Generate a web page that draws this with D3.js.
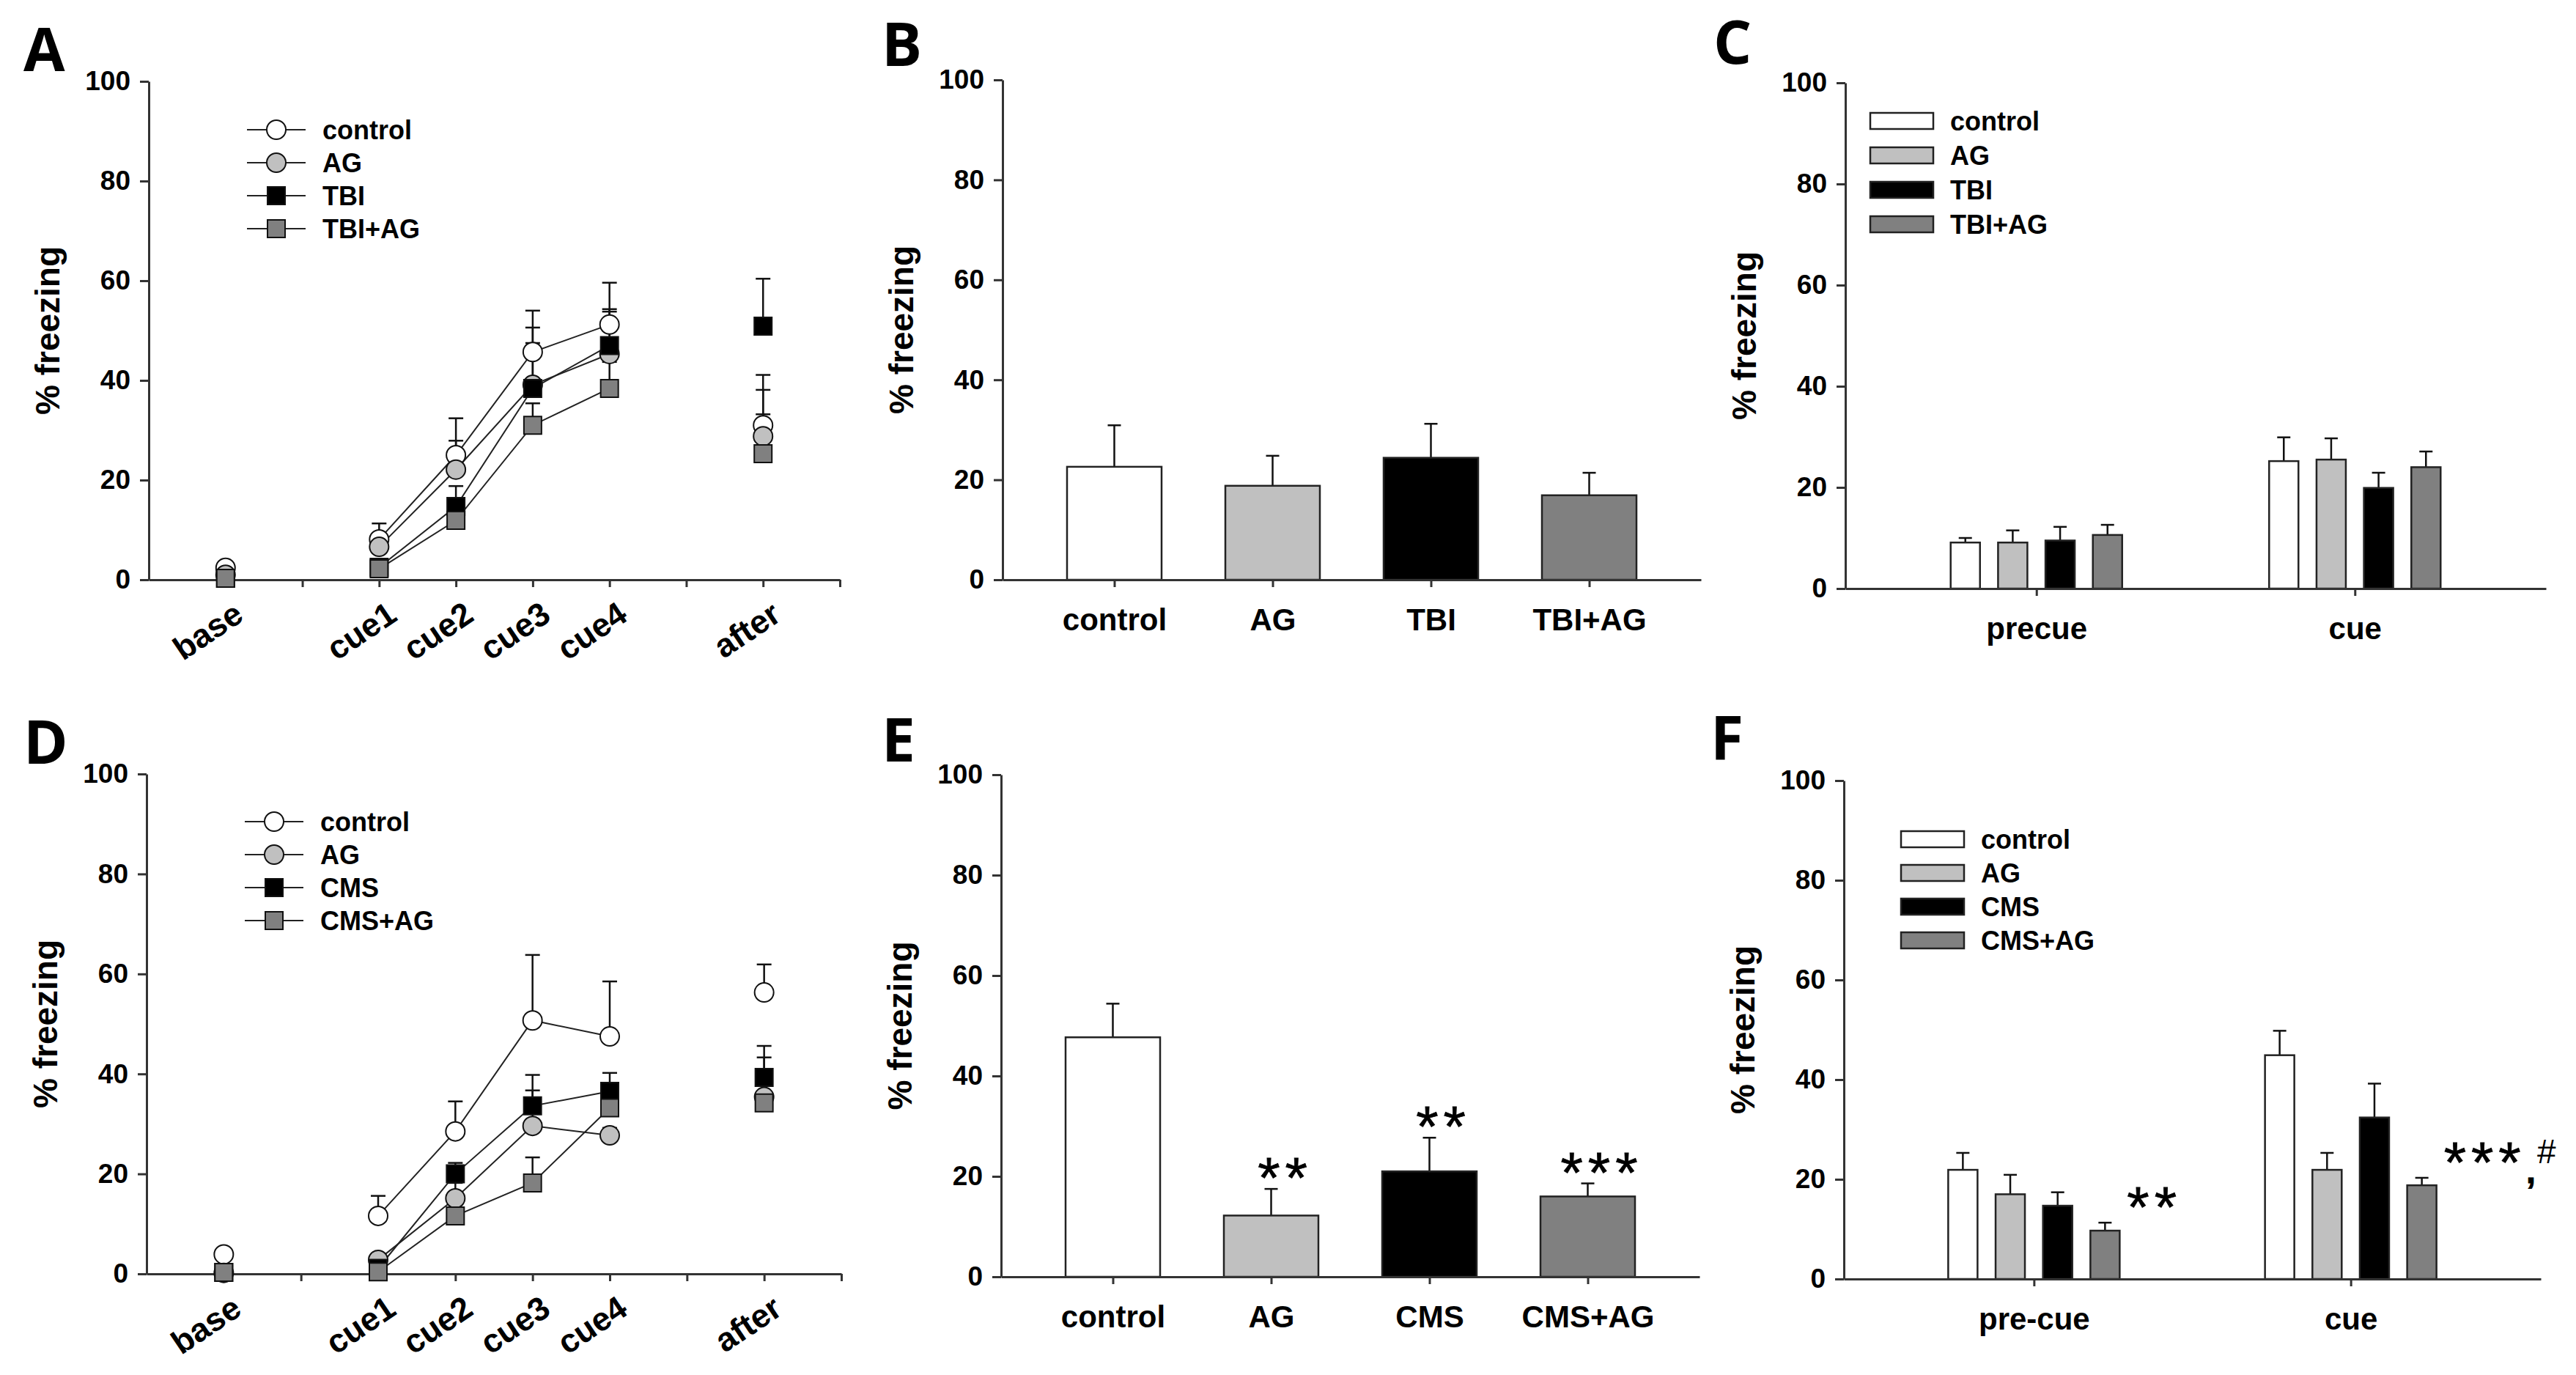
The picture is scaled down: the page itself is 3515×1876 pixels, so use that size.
<!DOCTYPE html>
<html>
  <head>
    <meta charset="utf-8">
    <title>Freezing panels</title>
    <script src="https://d3js.org/d3.v7.min.js"></script>
    <style>
      body {
        margin: 0;
        background: #ffffff;
      }
      svg {
        display: block;
        font-family: "Liberation Sans", Arial, sans-serif;
      }
      .axis .domain,
      .axis .tick line {
        stroke: #333333;
        stroke-width: 3px;
      }
      .axis .tick text {
        font-size: 37px;
        font-weight: bold;
        fill: #000000;
      }
      .axis--cat .tick text {
        font-size: 42px;
      }
      .axis__label {
        font-size: 46px;
        font-weight: bold;
        text-anchor: middle;
      }
      .panel__letter {
        font-family: "Open Sans", "Liberation Sans", sans-serif;
        font-size: 82px;
        font-weight: bold;
      }
      .time__label {
        font-size: 45px;
        font-weight: bold;
        text-anchor: end;
      }
      .legend text {
        font-size: 36px;
        font-weight: bold;
      }
      .series__line {
        fill: none;
        stroke: #222222;
        stroke-width: 2px;
      }
      .err {
        stroke: #111111;
        stroke-width: 2.5px;
      }
      .mark {
        stroke: #111111;
        stroke-width: 2px;
      }
      .bar {
        stroke: #222222;
        stroke-width: 2.5px;
      }
      .stars {
        font-size: 78px;
        letter-spacing: 7px;
        stroke: #000000;
        stroke-width: 0.8px;
      }
    </style>
  </head>
  <body>
    <svg width="3515" height="1876"></svg>
    <script>
      // ---- data ----
      const yTicks = [0, 20, 40, 60, 80, 100];

      const timeLabels = ["base", "cue1", "cue2", "cue3", "cue4", "after"];
      const timeSlots = [1, 3, 4, 5, 6, 8];
      const slotTicks = [1, 2, 3, 4, 5, 6, 7, 8, 9];

      const groupsTBI = ["control", "AG", "TBI", "TBI+AG"];
      const groupsCMS = ["control", "AG", "CMS", "CMS+AG"];

      // A: one row per group, one value per time label
      const aMeans = [
        [2.4, 8.1, 25.0, 45.7, 51.2, 31.0],
        [1.0, 6.6, 22.1, 39.1, 45.3, 28.8],
        [0.3, 2.5, 14.7, 38.4, 47.0, 50.9],
        [0.3, 2.2, 11.9, 31.0, 38.4, 25.3]
      ];
      const aErrs = [
        [0.5, 3.2, 7.4, 8.3, 8.4, 10.1],
        [0.5, 2.5, 5.8, 11.5, 8.5, 9.3],
        [0.3, 1.0, 4.1, 9.1, 7.3, 9.5],
        [0.3, 0.8, 1.5, 4.4, 5.3, 7.9]
      ];

      const bMeans = [22.6, 18.8, 24.4, 16.9];
      const bErrs = [8.3, 6.0, 6.8, 4.5];

      const cPhases = ["precue", "cue"];
      const cMeans = [[9.1, 25.2], [9.1, 25.5], [9.5, 19.9], [10.6, 24.0]];
      const cErrs = [[0.9, 4.7], [2.4, 4.2], [2.7, 3.0], [2.0, 3.1]];

      const dMeans = [
        [3.9, 11.6, 28.5, 50.7, 47.5, 56.3],
        [0.2, 2.8, 15.1, 29.6, 27.7, 35.4],
        [0.3, 1.1, 20.0, 33.6, 36.5, 39.3],
        [0.3, 0.4, 11.6, 18.2, 33.2, 34.2]
      ];
      const dErrs = [
        [0.5, 4.0, 6.0, 13.1, 11.0, 5.6],
        [0.3, 1.0, 3.1, 7.1, 1.5, 7.9],
        [0.3, 0.5, 2.2, 6.2, 3.7, 6.3],
        [0.3, 0.4, 2.2, 5.1, 4.8, 2.0]
      ];

      const eMeans = [47.7, 12.2, 21.0, 16.0];
      const eErrs = [6.7, 5.3, 6.7, 2.6];
      const eStars = ["", "**", "**", "***"];

      const fPhases = ["pre-cue", "cue"];
      const fMeans = [[21.9, 44.9], [17.0, 21.9], [14.7, 32.4], [9.7, 18.8]];
      const fErrs = [[3.4, 4.9], [3.9, 3.4], [2.7, 6.8], [1.6, 1.5]];
      const fStars = ["**", "***"];      // next to CMS+AG in each phase
      const fNotes = ["", ",#"];

      // ---- drawing ----
      const fillRange = ["#ffffff", "#c0c0c0", "#000000", "#808080"];
      const shapeRange = [d3.symbolCircle, d3.symbolCircle, d3.symbolSquare, d3.symbolSquare];

      function frame(g, p){
        const y = d3.scaleLinear().domain([0, 100]).range([p.y0, p.y1]);

        g.append("g")
            .attr("class", "axis axis--y")
            .attr("transform", `translate(${p.x0},0)`)
            .call(d3.axisLeft(y)
              .tickValues(yTicks)
              .tickSize(12)
              .tickSizeOuter(0)
              .tickPadding(13));

        g.append("text")
            .attr("class", "axis__label")
            .attr("transform", "rotate(-90)")
            .attr("x", -(p.y0 + p.y1) / 2)
            .attr("y", p.x0 - 138)
            .attr("dy", "0.35em")
            .text("% freezing");

        g.append("text")
            .attr("class", "panel__letter")
            .attr("x", p.letter[0])
            .attr("y", p.letter[1])
            .text(p.id);

        return y;
      }

      function errorBars(sel, x, y, cap){
        sel.append("line")
            .attr("class", "err")
            .attr("x1", d => x(d))
            .attr("x2", d => x(d))
            .attr("y1", d => y(d.v))
            .attr("y2", d => y(d.v + d.e));
        sel.append("line")
            .attr("class", "err")
            .attr("x1", d => x(d) - cap)
            .attr("x2", d => x(d) + cap)
            .attr("y1", d => y(d.v + d.e))
            .attr("y2", d => y(d.v + d.e));
      }

      function lineChart(g, p, groups, means, errs){
        const y = frame(g, p);
        const x = d3.scaleLinear().domain([0, 9]).range([p.x0, p.x1]);
        const fill = d3.scaleOrdinal().domain(groups).range(fillRange);
        const shape = d3.scaleOrdinal().domain(groups).range(shapeRange);
        const symbolSize = s => s === d3.symbolCircle ? Math.PI * 13 * 13 : 24 * 24;

        g.append("g")
            .attr("class", "axis axis--x")
            .attr("transform", `translate(0,${p.y0})`)
            .call(d3.axisBottom(x)
              .tickValues(slotTicks)
              .tickSize(10)
              .tickSizeOuter(0)
              .tickFormat(""));

        g.selectAll(".time__label")
          .data(timeLabels)
          .join("text")
            .attr("class", "time__label")
            .attr("transform", (d, i) =>
              `translate(${x(timeSlots[i]) + 27},${p.y0 + 54}) rotate(-34)`)
            .text(d => d);

        const series = groups.map((name, i) => ({
          name,
          points: timeSlots.map((s, j) => ({
            slot: s, label: timeLabels[j], v: means[i][j], e: errs[i][j]
          }))
        }));

        const line = d3.line()
          .x(d => x(d.slot))
          .y(d => y(d.v));

        g.selectAll(".series__line")
          .data(series)
          .join("path")
            .attr("class", "series__line")
            .attr("d", d => line(d.points.filter(q => q.label.startsWith("cue"))));

        const errG = g.append("g");
        series.forEach(s => {
          errG.append("g")
            .selectAll("g")
            .data(s.points)
            .join("g")
              .call(errorBars, d => x(d.slot), y, 10);
        });

        series.forEach(s => {
          g.append("g")
            .selectAll("path")
            .data(s.points)
            .join("path")
              .attr("class", "mark")
              .attr("transform", d => `translate(${x(d.slot)},${y(d.v)})`)
              .attr("fill", fill(s.name))
              .attr("d", d3.symbol(shape(s.name), symbolSize(shape(s.name))));
        });

        const legend = g.append("g")
            .attr("class", "legend")
            .attr("transform", `translate(${p.x0 + p.legend[0]},${p.y1 + p.legend[1]})`);
        const row = legend.selectAll("g")
          .data(groups)
          .join("g")
            .attr("transform", (d, i) => `translate(0,${i * 45})`);
        row.append("line")
            .attr("x1", 0)
            .attr("x2", 80)
            .attr("stroke", "#222")
            .attr("stroke-width", 2);
        row.append("path")
            .attr("class", "mark")
            .attr("transform", "translate(40,0)")
            .attr("fill", d => fill(d))
            .attr("d", d => d3.symbol(shape(d), symbolSize(shape(d)))());
        row.append("text")
            .attr("x", 103)
            .attr("y", 13)
            .text(d => d);
      }

      function barChart(g, p, groups, means, errs, stars){
        const y = frame(g, p);
        const x = d3.scalePoint().domain(groups).range([p.x0, p.x1]).padding(0.706);
        const fill = d3.scaleOrdinal().domain(groups).range(fillRange);
        const w = 129;

        const data = groups.map((name, i) => ({
          name, v: means[i], e: errs[i], star: stars ? stars[i] : ""
        }));

        const bar = g.append("g")
          .selectAll("g")
          .data(data)
          .join("g");

        bar.call(errorBars, d => x(d.name), y, 9);

        bar.append("rect")
            .attr("class", "bar")
            .attr("x", d => x(d.name) - w / 2)
            .attr("y", d => y(d.v))
            .attr("width", w)
            .attr("height", d => y(0) - y(d.v))
            .attr("fill", d => fill(d.name));

        bar.filter(d => d.star)
          .append("text")
            .attr("class", "stars")
            .attr("text-anchor", "middle")
            .attr("x", d => x(d.name) + 19)
            .attr("y", d => y(d.v + d.e) + 12)
            .text(d => d.star);

        g.append("g")
            .attr("class", "axis axis--cat")
            .attr("transform", `translate(0,${p.y0})`)
            .call(d3.axisBottom(x)
              .tickSize(10)
              .tickSizeOuter(0)
              .tickPadding(29));
      }

      function groupedBarChart(g, p, groups, phases, means, errs, stars, notes){
        const y = frame(g, p);
        const x = d3.scalePoint().domain(phases).range([p.x0, p.x1]).padding(0.6);
        const inner = d3.scalePoint().domain(groups).range([-97, 97]);
        const fill = d3.scaleOrdinal().domain(groups).range(fillRange);
        const w = 40;

        const data = [];
        phases.forEach((phase, k) => {
          groups.forEach((name, i) => {
            data.push({ phase, name, v: means[i][k], e: errs[i][k] });
          });
        });
        const cx = d => x(d.phase) + inner(d.name);

        const bar = g.append("g")
          .selectAll("g")
          .data(data)
          .join("g");

        bar.call(errorBars, cx, y, 9);

        bar.append("rect")
            .attr("class", "bar")
            .attr("x", d => cx(d) - w / 2)
            .attr("y", d => y(d.v))
            .attr("width", w)
            .attr("height", d => y(0) - y(d.v))
            .attr("fill", d => fill(d.name));

        if (stars) {
          const last = groups[groups.length - 1];
          const starData = phases.map((phase, k) => {
            const d = data.find(q => q.phase === phase && q.name === last);
            return { d, text: stars[k], note: notes[k] };
          });
          const t = g.append("g")
            .selectAll("text")
            .data(starData)
            .join("text")
              .attr("class", "stars")
              .attr("x", s => cx(s.d) + w / 2 + 10)
              .attr("y", s => y(s.d.v + s.d.e) + 6)
              .text(s => s.text);
          t.filter(s => s.note)
            .append("tspan")
              .attr("font-size", 48)
              .attr("font-weight", "bold")
              .attr("letter-spacing", 2)
              .attr("dy", 1)
              .text(s => s.note[0]);
          t.filter(s => s.note)
            .append("tspan")
              .attr("font-size", 46)
              .attr("letter-spacing", 0)
              .attr("stroke-width", 0)
              .attr("dy", -27)
              .text(s => s.note.slice(1));
        }

        g.append("g")
            .attr("class", "axis axis--cat")
            .attr("transform", `translate(0,${p.y0})`)
            .call(d3.axisBottom(x)
              .tickSize(10)
              .tickSizeOuter(0)
              .tickPadding(29));

        const legend = g.append("g")
            .attr("class", "legend")
            .attr("transform", `translate(${p.x0 + p.legend[0]},${p.y1 + p.legend[1]})`);
        const row = legend.selectAll("g")
          .data(groups)
          .join("g")
            .attr("transform", (d, i) => `translate(0,${i * p.legend[2]})`);
        row.append("rect")
            .attr("class", "bar")
            .attr("x", 0)
            .attr("y", -11)
            .attr("width", 86)
            .attr("height", 22)
            .attr("fill", d => fill(d));
        row.append("text")
            .attr("x", 109)
            .attr("y", 13)
            .text(d => d);
      }

      function main(){
        const svg = d3.select("svg");

        lineChart(svg.append("g"),
          { id: "A", x0: 203, x1: 1146, y0: 791, y1: 111, letter: [32, 97], legend: [134, 66] },
          groupsTBI, aMeans, aErrs);

        barChart(svg.append("g"),
          { id: "B", x0: 1368, x1: 2321, y0: 791, y1: 109, letter: [1203, 90] },
          groupsTBI, bMeans, bErrs, null);

        groupedBarChart(svg.append("g"),
          { id: "C", x0: 2518, x1: 3474, y0: 803, y1: 113, letter: [2338, 87], legend: [34, 52, 47] },
          groupsTBI, cPhases, cMeans, cErrs, null, null);

        lineChart(svg.append("g"),
          { id: "D", x0: 200, x1: 1148, y0: 1738, y1: 1056, letter: [32, 1042], legend: [134, 65] },
          groupsCMS, dMeans, dErrs);

        barChart(svg.append("g"),
          { id: "E", x0: 1366, x1: 2319, y0: 1742, y1: 1057, letter: [1203, 1039] },
          groupsCMS, eMeans, eErrs, eStars);

        groupedBarChart(svg.append("g"),
          { id: "F", x0: 2516, x1: 3467, y0: 1745, y1: 1065, letter: [2334, 1036], legend: [78, 80, 46] },
          groupsCMS, fPhases, fMeans, fErrs, fStars, fNotes);
      }
      main();
    </script>
  </body>
</html>
